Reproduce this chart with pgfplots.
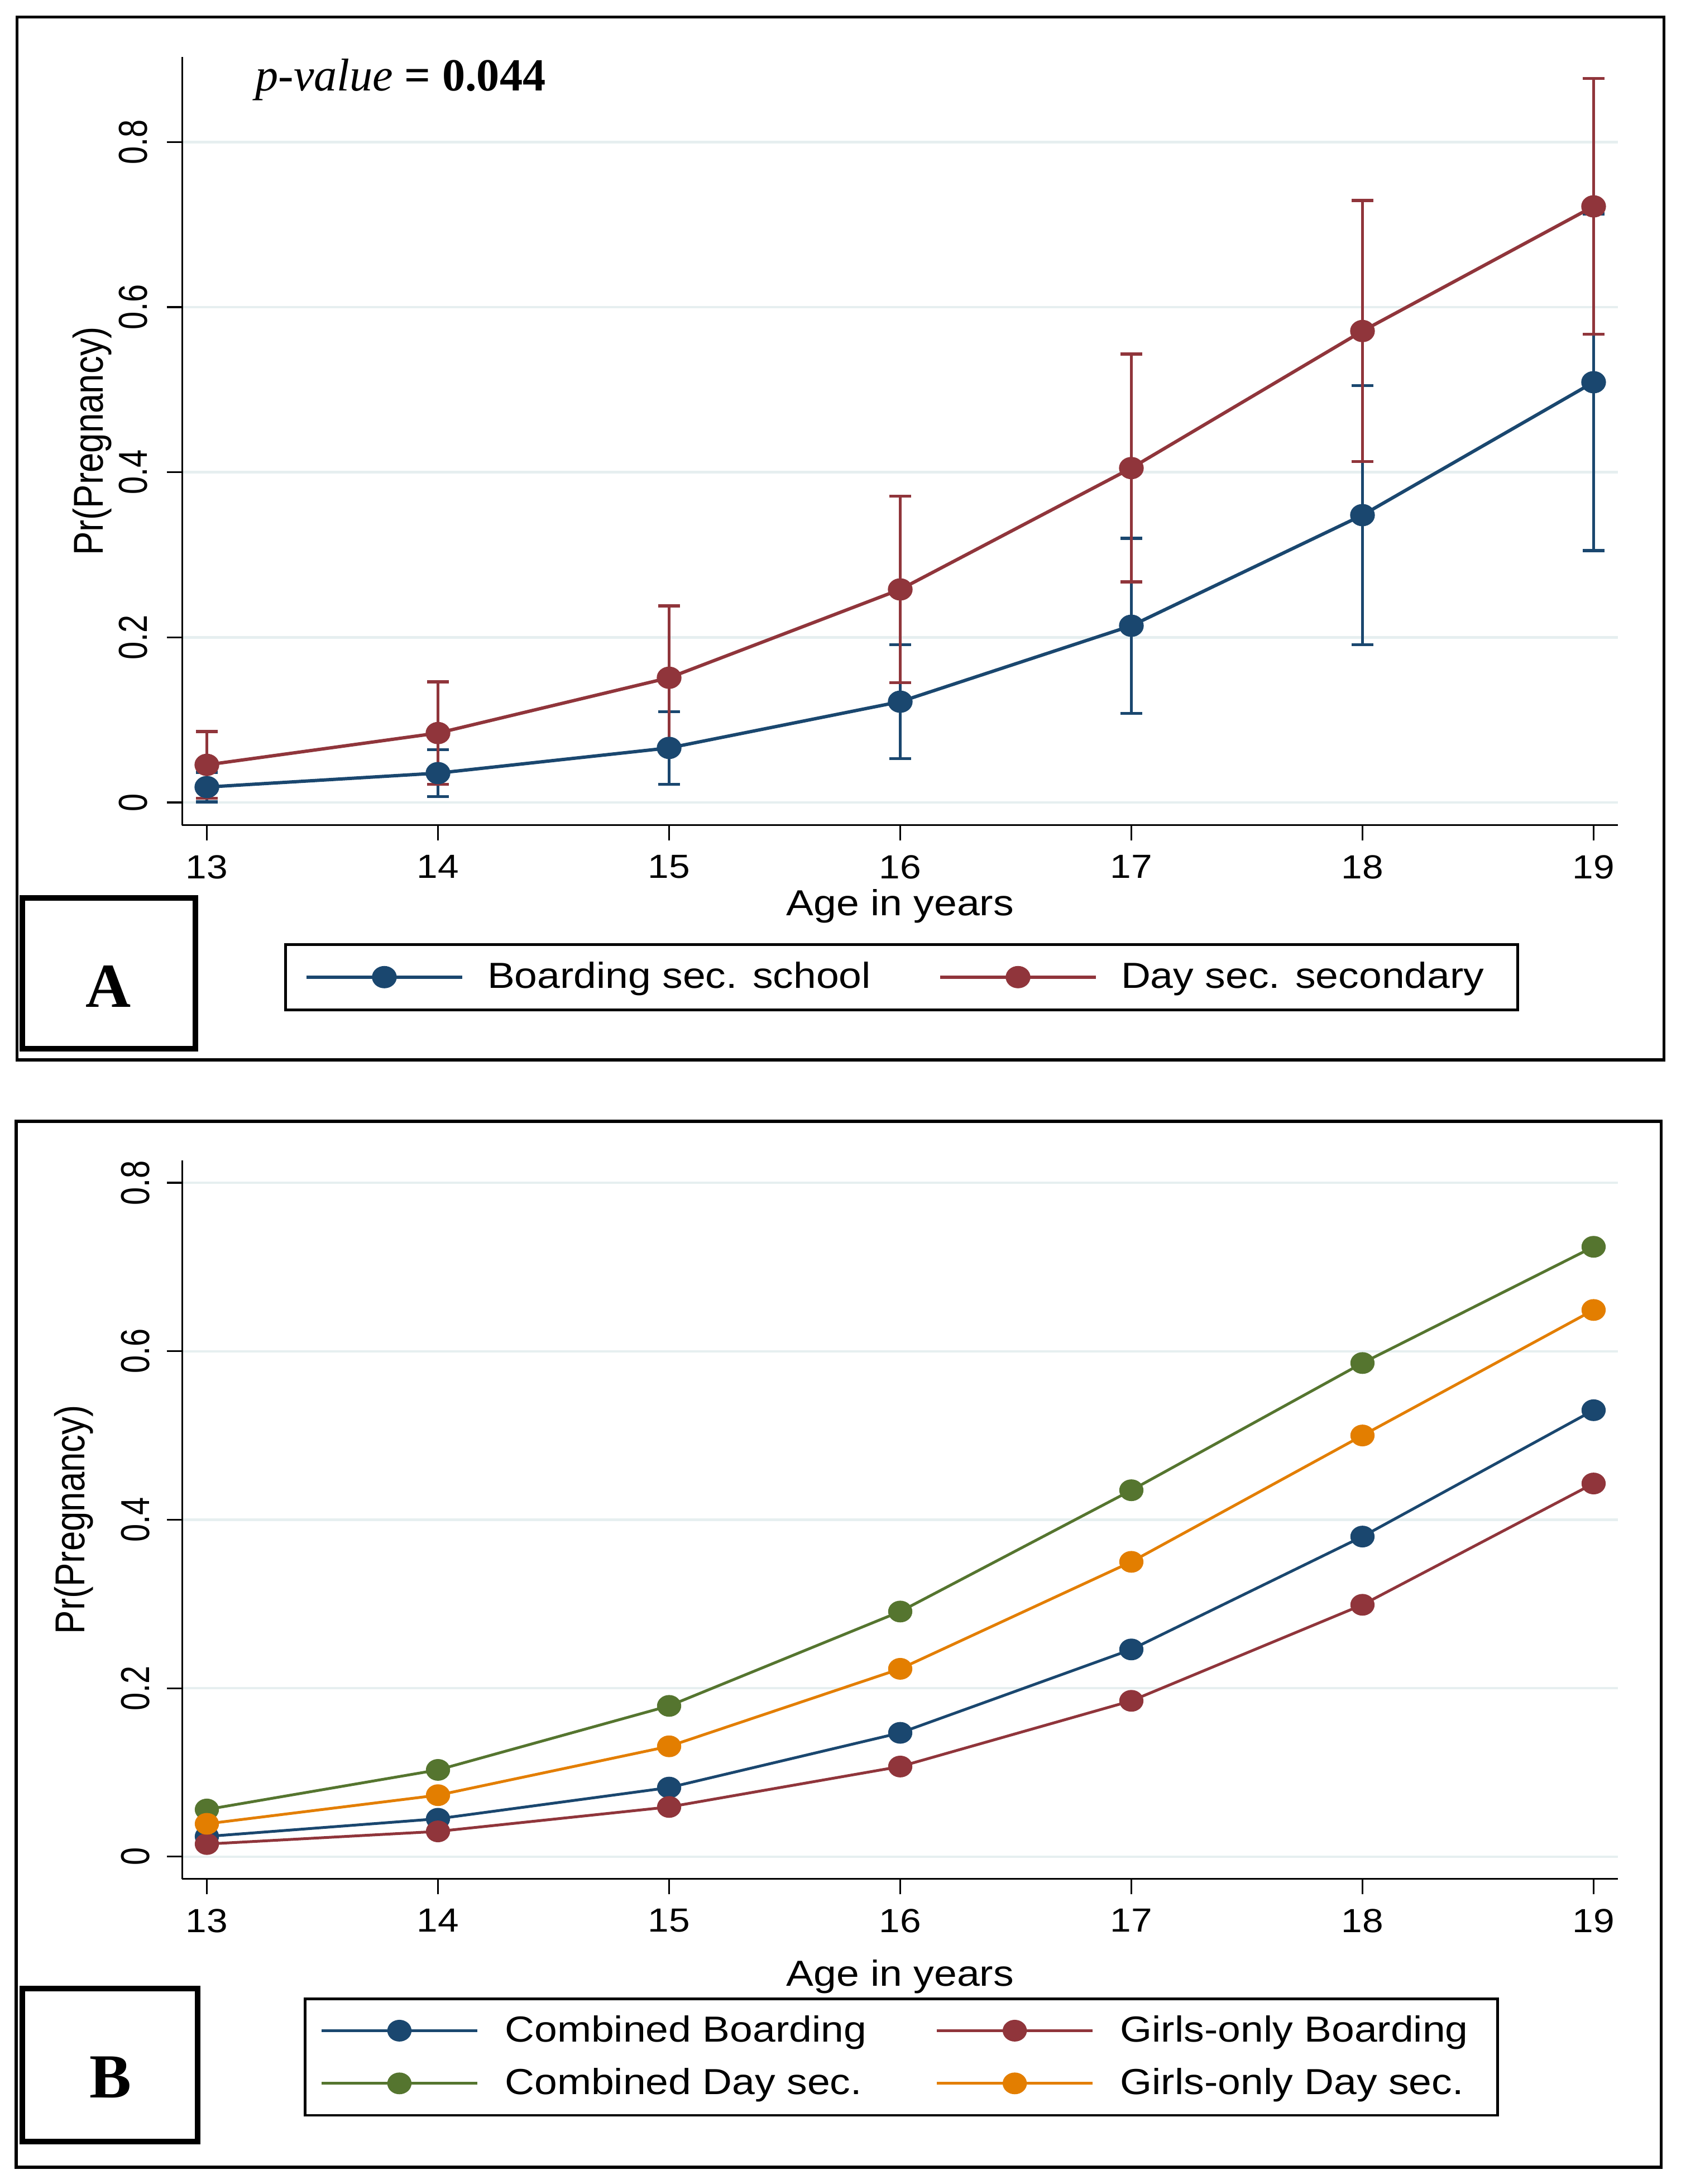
\documentclass[border=0pt]{standalone}
\usepackage{fontspec}
\setmainfont[FakeStretch=1.13]{Liberation Sans}
\newfontfamily\vtick[FakeStretch=0.8]{Liberation Sans}
\newfontfamily\vlab[FakeStretch=0.85]{Liberation Sans}
\newfontfamily\serif{Liberation Serif}
\usepackage{pgfplots}
\pgfplotsset{compat=1.18}
\definecolor{snavy}{RGB}{26,71,111}
\definecolor{smaroon}{RGB}{144,53,59}
\definecolor{sgreen}{RGB}{85,117,47}
\definecolor{sorange}{RGB}{227,126,0}
\definecolor{sgrid}{RGB}{230,239,240}
\pgfplotsset{
 stata/.style={
  scale only axis, width=515.6pt,
  axis x line*=bottom, axis y line*=left,
  axis line style={line width=0.65pt, black, -},
  xmin=12.893, xmax=19.106, enlargelimits=false,
  xtick={13,14,15,16,17,18,19}, ytick={0,0.2,0.4,0.6,0.8},
  minor tick num=0,
  tick align=outside, major tick length=5.5pt,
  tick style={line width=0.65pt, black},
  ymajorgrids, major grid style={line width=0.9pt, sgrid},
  /pgf/number format/assume math mode=true,
  yticklabel style={/pgf/number format/fixed, rotate=90, anchor=south, inner sep=0pt, font=\vtick\fontsize{14.5}{14.5}\selectfont},
  xticklabel style={anchor=north, inner sep=0pt, font=\fontsize{12}{12}\selectfont},
  xticklabel shift=5.1pt,
  xlabel={Age in years}, ylabel={Pr(Pregnancy)},
  ylabel style={inner sep=0pt, font=\vlab\fontsize{15}{15}\selectfont},
  xlabel style={inner sep=0pt, font=\fontsize{13}{13}\selectfont},
  legend cell align=left,
  legend columns=2,
  legend image code/.code={\draw[mark repeat=2, mark phase=2, #1] plot coordinates {(0pt,0pt) (27.9pt,0pt) (55.8pt,0pt)};},
  legend style={draw=black, line width=1pt, font=\fontsize{13}{13}\selectfont, nodes={inner sep=0pt}},
 },
 mk/.style={mark=*, mark size=3.4pt, mark options={xscale=1.13, solid, fill=#1, draw=#1}},
}
\begin{document}
\begin{tikzpicture}
\path[use as bounding box] (0pt,0pt) rectangle (603.5pt,-784pt);
% ---------------- Panel A ----------------
\begin{axis}[stata, at={(65.4pt,-296.25pt)}, anchor=south west, height=275.8pt,
  ymin=-0.0277, ymax=0.903,
  yticklabel shift=6.8pt,
  ylabel style={at={(axis description cs:-0.0628,0.5)}, anchor=center},
  xlabel style={at={(axis description cs:0.5,0)}, anchor=base, yshift=-32.5pt},
  legend style={at={(axis description cs:0.071,-0.1532)}, anchor=north west,
    inner xsep=7pt, inner ysep=6.3pt,
    /tikz/every odd column/.append style={column sep=8.5pt},
    /tikz/every even column/.append style={column sep=24.3pt}},
]
\addplot[snavy, line width=1.2pt, mk=snavy,
  error bars/.cd, y dir=both, y explicit,
  error bar style={line width=0.9pt, snavy},
  error mark options={rotate=90, mark size=3.9pt, line width=1.1pt, snavy}]
  table[x=a, y=p, y error=e] {
a p e
13 0.0186 0.018
14 0.0355 0.0285
15 0.066 0.044
16 0.122 0.069
17 0.214 0.106
18 0.348 0.157
19 0.509 0.204
};
\addlegendentry{Boarding sec. school}
\addplot[smaroon, line width=1.2pt, mk=smaroon,
  error bars/.cd, y dir=both, y explicit,
  error bar style={line width=0.9pt, smaroon},
  error mark options={rotate=90, mark size=3.9pt, line width=1.1pt, smaroon}]
  table[x=a, y=p, y error=e] {
a p e
13 0.0455 0.0405
14 0.084 0.062
15 0.151 0.087
16 0.258 0.113
17 0.405 0.138
18 0.571 0.158
19 0.722 0.155
};
\addlegendentry{Day sec. secondary\hspace*{5pt}}
\end{axis}
% ---------------- Panel B ----------------
\begin{axis}[stata, at={(65.4pt,-674.5pt)}, anchor=south west, height=258pt,
  ymin=-0.0265, ymax=0.8267,
  yticklabel shift=6pt,
  ylabel style={at={(axis description cs:-0.0753,0.5)}, anchor=center},
  xlabel style={at={(axis description cs:0.5,0)}, anchor=base, yshift=-38.5pt},
  legend style={at={(axis description cs:0.0846,-0.1647)}, anchor=north west,
    inner xsep=5.5pt, inner ysep=6pt,
    /tikz/every odd column/.append style={column sep=9.5pt},
    /tikz/every even column/.append style={column sep=24.8pt},
    /tikz/row sep=8pt},
]
\addplot[snavy, line width=1pt, mk=snavy] table[x=a, y=p] {
a p
13 0.024
14 0.045
15 0.082
16 0.147
17 0.246
18 0.380
19 0.530
};
\addlegendentry{Combined Boarding}
\addplot[smaroon, line width=1pt, mk=smaroon] table[x=a, y=p] {
a p
13 0.015
14 0.030
15 0.059
16 0.107
17 0.185
18 0.299
19 0.443
};
\addlegendentry{Girls-only Boarding\hspace*{5pt}}
\addplot[sgreen, line width=1pt, mk=sgreen] table[x=a, y=p] {
a p
13 0.056
14 0.103
15 0.179
16 0.291
17 0.435
18 0.586
19 0.724
};
\addlegendentry{Combined Day sec.}
\addplot[sorange, line width=1pt, mk=sorange] table[x=a, y=p] {
a p
13 0.039
14 0.073
15 0.131
16 0.223
17 0.350
18 0.500
19 0.649
};
\addlegendentry{Girls-only Day sec.}
\end{axis}
% ---------------- frames and labels ----------------
\draw[line width=1.1pt] (6.15pt,-6.15pt) rectangle (597.5pt,-380.5pt);
\draw[line width=1.1pt] (5.8pt,-402.5pt) rectangle (596.5pt,-778pt);
\draw[line width=2pt] (7.95pt,-322.25pt) rectangle (70.2pt,-376.5pt);
\draw[line width=2pt] (8pt,-713.8pt) rectangle (71pt,-768.75pt);
\node[anchor=base, inner sep=0pt] at (38.9pt,-361.5pt) {\serif\bfseries\fontsize{22.5}{22.5}\selectfont A};
\node[anchor=base, inner sep=0pt] at (39.75pt,-753pt) {\serif\bfseries\fontsize{22.5}{22.5}\selectfont B};
\node[anchor=base west, inner sep=0pt] at (91.5pt,-32.6pt) {\serif\fontsize{16.5}{16.5}\selectfont\textit{p-value} \textbf{= 0.044}};
\end{tikzpicture}
\end{document}
